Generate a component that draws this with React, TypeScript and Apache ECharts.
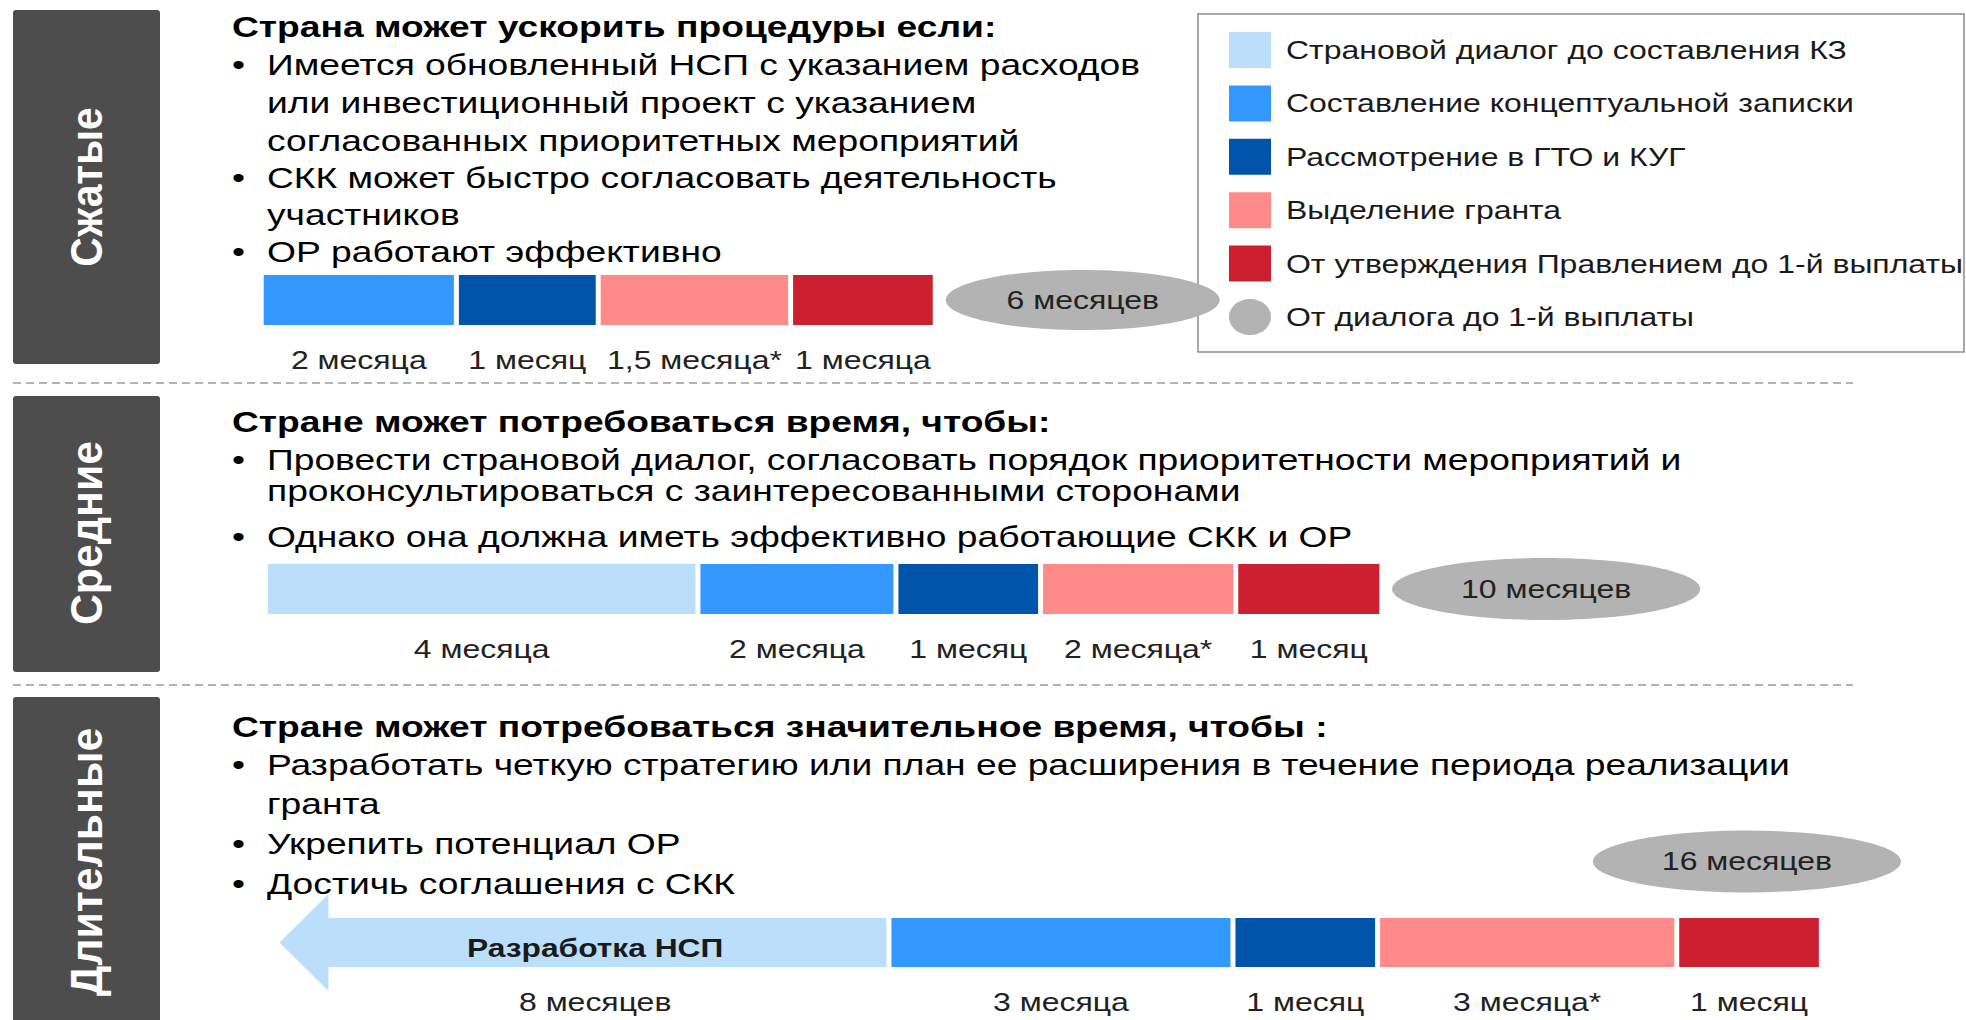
import React, { useEffect, useRef } from 'react';
import * as echarts from 'echarts';

// ---------- DATA ----------
const sectionNames = ['Сжатые', 'Средние', 'Длительные'];
const phaseNames = [
  'Страновой диалог до составления КЗ',
  'Составление концептуальной записки',
  'Рассмотрение в ГТО и КУГ',
  'Выделение гранта',
  'От утверждения Правлением до 1-й выплаты',
];
const totalName = 'От диалога до 1-й выплаты';

const headings = [
  'Страна может ускорить процедуры если:',
  'Стране может потребоваться время, чтобы:',
  'Стране может потребоваться значительное время, чтобы :',
];
const bulletsShort = [
  ['Имеется обновленный НСП с указанием расходов', 'или инвестиционный проект с указанием', 'согласованных приоритетных мероприятий'],
  ['СКК может быстро согласовать деятельность', 'участников'],
  ['ОР работают эффективно'],
];
const bulletsMedium = [
  ['Провести страновой диалог, согласовать порядок приоритетности мероприятий и', 'проконсультироваться с заинтересованными сторонами'],
  ['Однако она должна иметь эффективно работающие СКК и ОР'],
];
const bulletsLong = [
  ['Разработать четкую стратегию или план ее расширения в течение периода реализации', 'гранта'],
  ['Укрепить потенциал ОР'],
  ['Достичь соглашения с СКК'],
];

// timeline (display units on a 0..14 axis): where each row starts, and the drawn span of each phase
const timelineStart = [1.86, 1.89, 1.99];
const spansShort = [0, 1.39, 1.01, 1.37, 1.03];
const spansMedium = [3.08, 1.41, 1.03, 1.39, 1.04];
const spansLong = [4.34, 2.45, 1.03, 2.13, 1.03];
const monthsShort = ['', '2 месяца', '1 месяц', '1,5 месяца*', '1 месяца'];
const monthsMedium = ['4 месяца', '2 месяца', '1 месяц', '2 месяца*', '1 месяц'];
const monthsLong = ['8 месяцев', '3 месяца', '1 месяц', '3 месяца*', '1 месяц'];
const totalLabels = ['6 месяцев', '10 месяцев', '16 месяцев'];
const totalBadgeX = [7.71, 11.01, 12.44];
const arrowLabel = 'Разработка НСП';

// ---------- STYLE ----------
const phaseColors = ['#BBDEFB', '#3399FF', '#0055AA', '#FF8A8A', '#CC1F2F'];
const totalColor = '#B3B3B3';
const boxColor = '#4D4D4D';
const FONT = '"Liberation Sans", Arial, sans-serif';
const SX = 1.24;

const spansAll = [spansShort, spansMedium, spansLong];
const monthsAll = [monthsShort, monthsMedium, monthsLong];
const bulletsAll = [bulletsShort, bulletsMedium, bulletsLong];
const arrowRow = [false, false, true];

// layout constants
const barTop = [275, 564, 918];
const barH = [50, 50, 49];
const GAP = 5;
const LABEL_DY = 35;
const ARROW_HEAD_LEN = 49;
const ARROW_HEAD_H = 97;
const badgeSize = [[137, 30], [154, 31], [154, 31]];
const badgeLift = [0, 0, -81];
const headingY = [26, 421, 726];
const lineYs = [
  [[64, 102, 140], [177, 214], [251]],
  [[459, 490], [536]],
  [[764, 803], [843], [883]],
];
const boxes = [[13, 10, 147, 354], [13, 396, 147, 276], [13, 697, 147, 340]];
const sideLabelY = [187, 533, 862];
const sideLabelScale = [0.97, 1.02, 1.02];
const dashY = [383, 685];
const TEXT_X = 232;
const BULLET_TEXT_X = 267;

type Seg = { start: number; end: number; phase: number; label: string };
const segments: Seg[][] = spansAll.map((spans, s) => {
  let cur = timelineStart[s];
  const out: Seg[] = [];
  spans.forEach((w, p) => {
    if (w > 0) {
      out.push({ start: cur, end: cur + w, phase: p, label: monthsAll[s][p] });
      cur += w;
    }
  });
  return out;
});

function txt(text: string, x: number, y: number, o: any = {}) {
  const align = o.align ?? 'left';
  return {
    type: 'text',
    x,
    y,
    rotation: o.rotation ?? 0,
    scaleX: o.sx ?? SX,
    scaleY: o.sy ?? 1,
    silent: true,
    z: 20,
    style: {
      text,
      fill: o.fill ?? '#000',
      fontSize: o.fs ?? 30,
      fontWeight: o.fw ?? 'normal',
      fontFamily: FONT,
      align,
      textAlign: align,
      verticalAlign: 'middle',
      textVerticalAlign: 'middle',
    },
  };
}

function buildGraphic() {
  const g: any[] = [];
  // side boxes
  boxes.forEach((b, i) => {
    g.push({ type: 'rect', shape: { x: b[0], y: b[1], width: b[2], height: b[3], r: 3 }, style: { fill: boxColor }, silent: true, z: 5 });
    g.push(
      txt(sectionNames[i], b[0] + b[2] / 2, sideLabelY[i], {
        rotation: Math.PI / 2,
        align: 'center',
        fs: 42,
        fw: 'bold',
        fill: '#fff',
        sx: sideLabelScale[i],
        sy: 1.05,
      })
    );
  });
  // dashed separators
  dashY.forEach((y) => {
    g.push({ type: 'line', shape: { x1: 13, y1: y, x2: 1853, y2: y }, style: { stroke: '#9a9a9a', lineWidth: 1.5, lineDash: [8, 5] }, silent: true, z: 5 });
  });
  // headings and bullets
  headings.forEach((h, s) => {
    g.push(txt(h, TEXT_X, headingY[s], { fw: 'bold', fs: 30 }));
    bulletsAll[s].forEach((lines, b) => {
      lines.forEach((line, l) => {
        const y = lineYs[s][b][l];
        if (l === 0) g.push(txt('•', TEXT_X, y, { fs: 30 }));
        g.push(txt(line, BULLET_TEXT_X, y, { fs: 30 }));
      });
    });
  });
  // legend
  g.push({ type: 'rect', shape: { x: 1198, y: 14, width: 766, height: 338 }, style: { fill: '#fff', stroke: '#8c8c8c', lineWidth: 1.5 }, silent: true, z: 5 });
  const legendY0 = 50;
  const legendStep = 53.4;
  phaseNames.forEach((name, i) => {
    const y = legendY0 + i * legendStep;
    g.push({ type: 'rect', shape: { x: 1229, y: y - 18, width: 42, height: 36 }, style: { fill: phaseColors[i] }, silent: true, z: 6 });
    g.push(txt(name, 1286, y, { fs: 26, fill: '#1a1a1a', sx: 1.23 }));
  });
  const yT = legendY0 + 5 * legendStep;
  g.push({ type: 'ellipse', shape: { cx: 1250, cy: yT, rx: 21, ry: 18 }, style: { fill: totalColor }, silent: true, z: 6 });
  g.push(txt(totalName, 1286, yT, { fs: 26, fill: '#1a1a1a', sx: 1.23 }));
  return g;
}

function segmentRender(sec: number) {
  return (params: any, api: any) => {
    const seg = segments[sec][params.dataIndex];
    const a = api.coord([api.value(0), 0]);
    const b = api.coord([api.value(1), 0]);
    const h = api.size([0, 1])[1];
    const cy = a[1];
    const fill = phaseColors[seg.phase];
    const children: any[] = [];
    let labelX: number;
    const isArrow = arrowRow[sec] && seg.phase === 0;
    if (isArrow) {
      const x0 = a[0];
      const x1 = b[0] - GAP / 2;
      const xh = x0 + ARROW_HEAD_LEN;
      children.push({
        type: 'polygon',
        shape: {
          points: [
            [x0, cy], [xh, cy - ARROW_HEAD_H / 2], [xh, cy - h / 2], [x1, cy - h / 2],
            [x1, cy + h / 2], [xh, cy + h / 2], [xh, cy + ARROW_HEAD_H / 2],
          ],
        },
        style: { fill },
      });
      labelX = (x0 + ARROW_HEAD_LEN / 2 + x1) / 2;
      children.push(txt(arrowLabel, labelX, cy + 6, { align: 'center', fs: 25, fw: 'bold', fill: '#1a1a1a', sx: 1.27 }));
    } else {
      const x0 = a[0] + GAP / 2;
      const x1 = b[0] - GAP / 2;
      children.push({ type: 'rect', shape: { x: x0, y: cy - h / 2, width: x1 - x0, height: h }, style: { fill } });
      labelX = (x0 + x1) / 2;
    }
    children.push(txt(seg.label, labelX, cy + h / 2 + LABEL_DY, { align: 'center', fs: 26, fill: '#222', sx: 1.23 }));
    return { type: 'group', children };
  };
}

function badgeRender(sec: number) {
  return (params: any, api: any) => {
    const p = api.coord([api.value(0), 0]);
    const cy = p[1] + badgeLift[sec];
    return {
      type: 'group',
      children: [
        { type: 'ellipse', shape: { cx: p[0], cy, rx: badgeSize[sec][0], ry: badgeSize[sec][1] }, style: { fill: totalColor } },
        txt(totalLabels[sec], p[0], cy, { align: 'center', fs: 26, fill: '#222', sx: 1.23 }),
      ],
    };
  };
}

function buildOption() {
  const grid: any[] = [];
  const xAxis: any[] = [];
  const yAxis: any[] = [];
  const series: any[] = [];
  sectionNames.forEach((name, i) => {
    grid.push({ left: 0, right: 0, top: barTop[i], height: barH[i] });
    xAxis.push({ type: 'value', gridIndex: i, min: 0, max: 14, show: false });
    yAxis.push({ type: 'category', gridIndex: i, data: [name], show: false });
    series.push({
      type: 'custom',
      name: name,
      xAxisIndex: i,
      yAxisIndex: i,
      clip: false,
      silent: true,
      renderItem: segmentRender(i),
      encode: { x: [0, 1], y: 2 },
      data: segments[i].map((s) => [s.start, s.end, 0]),
      z: 10,
    });
    series.push({
      type: 'custom',
      name: totalName,
      xAxisIndex: i,
      yAxisIndex: i,
      clip: false,
      silent: true,
      renderItem: badgeRender(i),
      encode: { x: 0, y: 1 },
      data: [[totalBadgeX[i], 0]],
      z: 10,
    });
  });
  return {
    animation: false,
    backgroundColor: '#ffffff',
    grid,
    xAxis,
    yAxis,
    series,
    graphic: buildGraphic(),
  };
}

export default function App() {
  const ref = useRef<HTMLDivElement>(null);
  useEffect(() => {
    if (!ref.current) return;
    const chart = echarts.init(ref.current, undefined, { renderer: 'svg' });
    chart.setOption(buildOption());
    return () => chart.dispose();
  }, []);
  return (
    <div
      ref={ref}
      style={{ position: 'absolute', left: 0, top: 0, width: 1966, height: 1020, background: '#fff' }}
    />
  );
}
